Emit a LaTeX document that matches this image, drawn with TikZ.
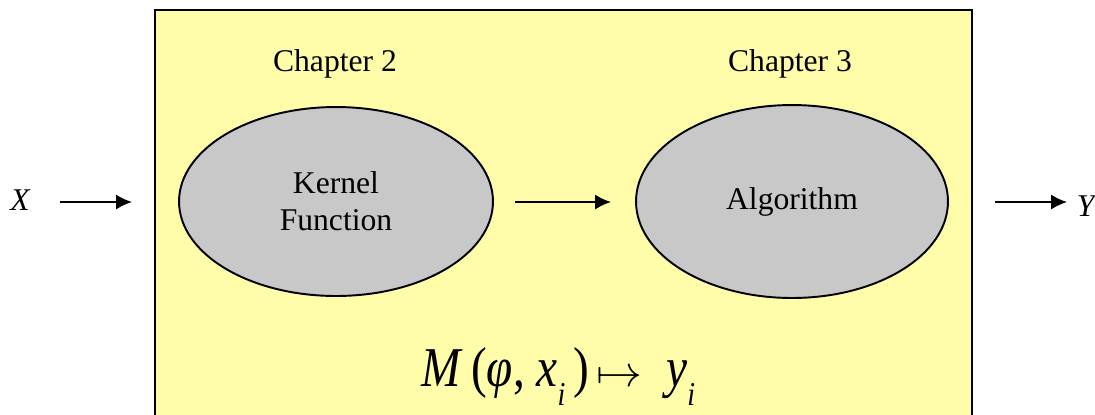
\documentclass[tikz,border=0pt]{standalone}
\usepackage{fontspec}
\setmainfont{Liberation Serif}
\usetikzlibrary{shapes.geometric, arrows.meta}
\definecolor{boxyellow}{RGB}{255,252,170}
\definecolor{blobgray}{RGB}{200,200,200}
\newcommand{\subi}{\raisebox{-0.35em}{\fontsize{19}{19}\selectfont\textit{i}}}
\begin{document}
\begin{tikzpicture}[x=0.02cm, y=-0.02cm, >={Latex[length=9pt,width=8.5pt]}, line width=1pt]
    \useasboundingbox (0,0) rectangle (1095,414);
    \tikzset{blob/.style={draw, ellipse, fill=blobgray, line width=1.1pt, align=center,
        inner sep=0pt, font=\fontsize{18}{21}\selectfont}}
    % Model box
    \draw[fill=boxyellow, line width=1.4pt] (155,10) rectangle (972,440);

    % Chapter labels
    \node[font=\fontsize{18}{21}\selectfont] (ch2) at (335,64) {Chapter 2};
    \node[font=\fontsize{18}{21}\selectfont] (ch3) at (790,64) {Chapter 3};

    % Kernel function
    \node[blob, minimum width=6.28cm, minimum height=3.78cm] (kernel) at (336,201.5) {Kernel\\Function};

    % Algorithm
    \node[blob, minimum width=6.24cm, minimum height=3.86cm] (algo) at (792,201.5) {Algorithm};

    % Input and output
    \node[font=\fontsize{18}{21}\selectfont\itshape] (x) at (20,200) {X};
    \node[font=\fontsize{18}{21}\selectfont\itshape, anchor=west, inner sep=0pt] (y) at (1076,206) {Y};
    \coordinate (xin) at (132,202);
    \coordinate (yout) at (995,202);

    \draw[->] (60,202) -- (xin);
    \draw[->] (515,202) -- (611,202);
    \draw[->] (yout) -- (1067,202);

    % Mapping
    \node[font=\fontsize{32}{36}\selectfont, anchor=base west, inner sep=0pt] (map) at (421,386)
        {\scalebox{0.84}[1]{\textit{M}\,(\textit{φ}, \textit{x}\subi\,)\,\scalebox{1.25}[1]{$\mapsto$}\ \ \textit{y}\subi}};
\end{tikzpicture}
\end{document}
